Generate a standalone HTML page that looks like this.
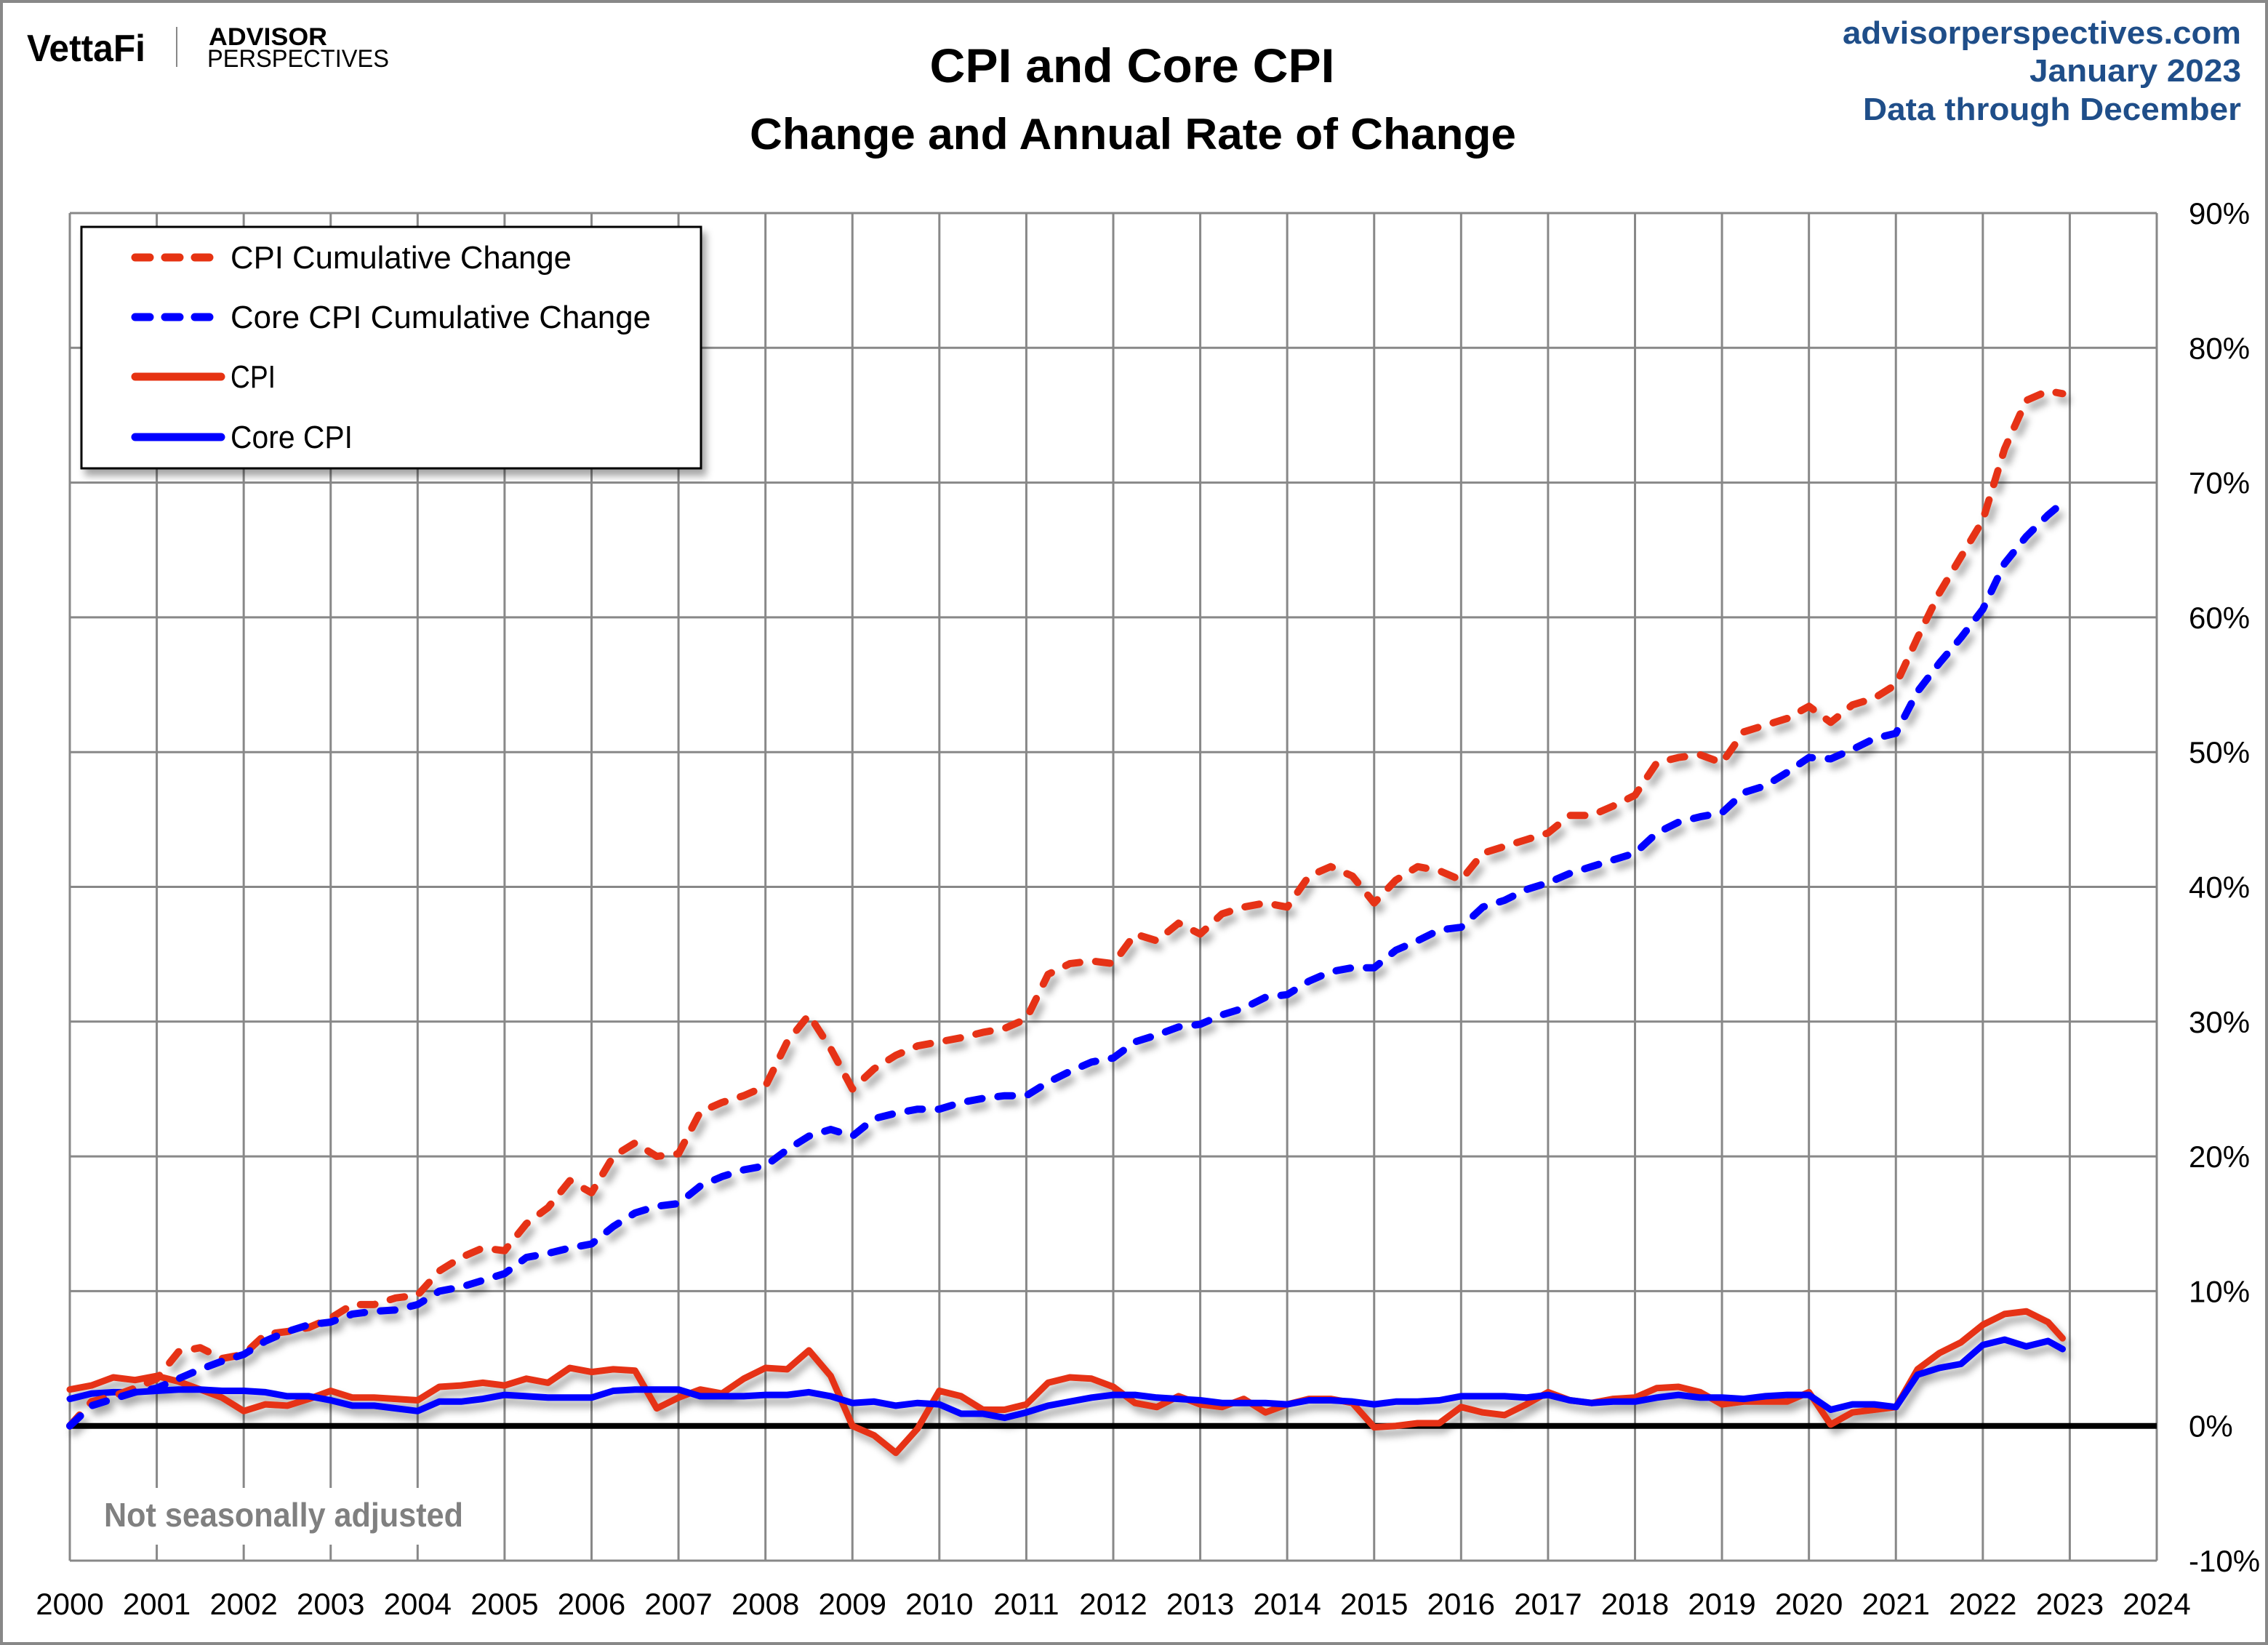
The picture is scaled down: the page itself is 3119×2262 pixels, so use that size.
<!DOCTYPE html>
<html><head><meta charset="utf-8"><style>
html,body{margin:0;padding:0;background:#fff}
svg{display:block}
text{font-family:"Liberation Sans",sans-serif}
</style></head><body>
<svg id="chart" width="3119" height="2262" viewBox="0 0 3119 2262" xmlns="http://www.w3.org/2000/svg">
<defs>
<filter id="sh" x="-5%" y="-5%" width="110%" height="120%"><feDropShadow dx="6" dy="9" stdDeviation="5" flood-color="#000" flood-opacity="0.35"/></filter>
</defs>
<rect x="2" y="2" width="3115" height="2258" fill="#fff" stroke="#888" stroke-width="4"/>
<g>
<text x="37" y="84" font-size="52" font-weight="bold" textLength="163" lengthAdjust="spacingAndGlyphs">VettaFi</text>
<line x1="243" y1="37" x2="243" y2="92" stroke="#888" stroke-width="2"/>
<text x="287" y="62" font-size="34" font-weight="bold" textLength="163" lengthAdjust="spacingAndGlyphs">ADVISOR</text>
<text x="285" y="92" font-size="34" textLength="250" lengthAdjust="spacingAndGlyphs">PERSPECTIVES</text>
</g>
<text x="1557" y="113" font-size="66" font-weight="bold" text-anchor="middle" textLength="557" lengthAdjust="spacingAndGlyphs">CPI and Core CPI</text>
<text x="1558" y="205" font-size="60" font-weight="bold" text-anchor="middle" textLength="1054" lengthAdjust="spacingAndGlyphs">Change and Annual Rate of Change</text>
<g fill="#1f4e89" font-weight="bold" font-size="44" text-anchor="end">
<text x="3082" y="60" textLength="548" lengthAdjust="spacingAndGlyphs">advisorperspectives.com</text>
<text x="3082" y="112" textLength="291" lengthAdjust="spacingAndGlyphs">January 2023</text>
<text x="3082" y="165" textLength="520" lengthAdjust="spacingAndGlyphs">Data through December</text>
</g>
<g id="grid"></g>
<rect x="130" y="2046" width="520" height="78" fill="#fff"/>
<g id="series"></g>
<text x="143" y="2099" font-size="46" font-weight="bold" fill="#808080" textLength="494" lengthAdjust="spacingAndGlyphs">Not seasonally adjusted</text>
<g id="legend">
<rect x="112" y="312" width="852" height="332" fill="#fff" stroke="#000" stroke-width="3" filter="url(#sh)"/>
<line x1="186" y1="354" x2="300" y2="354" stroke="#e63312" stroke-width="11" stroke-dasharray="20 21" stroke-linecap="round"/>
<text x="317" y="369" font-size="44" textLength="469" lengthAdjust="spacingAndGlyphs">CPI Cumulative Change</text>
<line x1="186" y1="436" x2="300" y2="436" stroke="#0000ff" stroke-width="11" stroke-dasharray="20 21" stroke-linecap="round"/>
<text x="317" y="451" font-size="44" textLength="578" lengthAdjust="spacingAndGlyphs">Core CPI Cumulative Change</text>
<line x1="186" y1="518" x2="304" y2="518" stroke="#e63312" stroke-width="11" stroke-linecap="round"/>
<text x="317" y="533" font-size="44" textLength="62" lengthAdjust="spacingAndGlyphs">CPI</text>
<line x1="186" y1="601" x2="304" y2="601" stroke="#0000ff" stroke-width="11" stroke-linecap="round"/>
<text x="317" y="616" font-size="44" textLength="168" lengthAdjust="spacingAndGlyphs">Core CPI</text>
</g>
</svg>
<script>
const years = [2000,2001,2002,2003,2004,2005,2006,2007,2008,2009,2010,2011,2012,2013,2014,2015,2016,2017,2018,2019,2020,2021,2022,2023,2024];
const yTicks = [90,80,70,60,50,40,30,20,10,0,-10];
// quarterly observations (Jan, Apr, Jul, Oct) 2000-2022, plus Dec 2022
const cpiCumulative = [0,1.8,2.2,2.8, 3.5,5.5,5.8,5.0, 5.3,6.8,7.0,7.3, 8.0,9.0,9.0,9.5, 9.7,11.5,12.5,13.2, 13.0,15.0,16.2,18.2, 17.3,20.0,21.0,20.0, 20.2,23.3,24.0,24.5, 25.2,28.5,30.5,28.0, 25.0,26.5,27.5,28.2, 28.5,28.8,29.2,29.5, 30.2,33.5,34.3,34.5, 34.3,36.5,36.0,37.3, 36.5,38.0,38.5,38.8, 38.5,40.8,41.5,40.8, 38.8,40.5,41.5,41.2, 40.5,42.5,43.0,43.5, 44.0,45.3,45.3,46.0, 46.8,49.2,49.6,49.8, 49.2,51.5,52.0,52.5, 53.4,52.2,53.5,54.0, 55.0,58.5,61.8,64.5, 67.2,72.5,76.1,76.8, 76.6];
const coreCumulative = [0,1.5,2.0,2.5, 2.8,3.5,4.2,4.8, 5.3,6.3,7.0,7.5, 7.7,8.3,8.5,8.6, 9.0,10.0,10.3,10.8, 11.3,12.5,12.8,13.2, 13.5,14.8,15.8,16.3, 16.5,17.8,18.5,19.0, 19.3,20.5,21.5,22.0, 21.5,22.8,23.2,23.5, 23.5,24.0,24.3,24.5, 24.5,25.5,26.3,27.0, 27.3,28.5,29.0,29.6, 29.8,30.5,31.0,31.8, 32.0,33.0,33.7,34.0, 34.0,35.3,36.0,36.8, 37.0,38.5,39.0,39.8, 40.3,41.0,41.5,42.0, 42.5,44.0,44.8,45.2, 45.5,47.0,47.5,48.5, 49.6,49.5,50.2,51.0, 51.4,54.5,56.6,58.5, 60.6,64.0,66.0,67.6, 68.5];
const cpiAnnual = [2.7,3.0,3.6,3.4, 3.7,3.3,2.7,2.1, 1.1,1.6,1.5,2.0, 2.6,2.1,2.1,2.0, 1.9,2.9,3.0,3.2, 3.0,3.5,3.2,4.3, 4.0,4.2,4.1,1.3, 2.1,2.7,2.4,3.5, 4.3,4.2,5.6,3.7, 0.0,-0.7,-2.0,-0.2, 2.6,2.2,1.2,1.2, 1.6,3.2,3.6,3.5, 2.9,1.7,1.4,2.2, 1.6,1.4,2.0,1.0, 1.6,2.0,2.0,1.7, -0.1,0.0,0.2,0.2, 1.4,1.0,0.8,1.6, 2.5,1.9,1.7,2.0, 2.1,2.8,2.9,2.5, 1.6,1.8,1.8,1.8, 2.5,0.1,1.0,1.2, 1.4,4.2,5.4,6.2, 7.5,8.3,8.5,7.7, 6.5];
const coreAnnual = [2.0,2.4,2.5,2.5, 2.6,2.7,2.7,2.6, 2.6,2.5,2.2,2.2, 1.9,1.5,1.5,1.3, 1.1,1.8,1.8,2.0, 2.3,2.2,2.1,2.1, 2.1,2.6,2.7,2.7, 2.7,2.2,2.2,2.2, 2.3,2.3,2.5,2.2, 1.7,1.8,1.5,1.7, 1.6,0.9,0.9,0.6, 1.0,1.5,1.8,2.1, 2.3,2.3,2.1,2.0, 1.9,1.7,1.7,1.7, 1.6,1.9,1.9,1.8, 1.6,1.8,1.8,1.9, 2.2,2.2,2.2,2.1, 2.3,1.9,1.7,1.8, 1.8,2.1,2.3,2.1, 2.1,2.0,2.2,2.3, 2.3,1.2,1.6,1.6, 1.4,3.8,4.3,4.6, 6.0,6.4,5.9,6.3, 5.7];

const NS='http://www.w3.org/2000/svg';
const L=96,R=2966,T=293,B=2146,X0=2000,X1=2024,Y0=-10,Y1=90;
const xs=t=>L+(t-X0)/(X1-X0)*(R-L);
const ys=v=>B-(v-Y0)/(Y1-Y0)*(B-T);
const dateOf=i=>i<92?X0+i*0.25:2022+11/12;
function mk(tag,attrs,parent){const e=document.createElementNS(NS,tag);for(const k in attrs)e.setAttribute(k,attrs[k]);parent.appendChild(e);return e;}
const grid=document.getElementById('grid');


years.forEach(y=>{
  const x=xs(y);
  const ln=mk('line',{x1:x,y1:T,x2:x,y2:B,stroke:'#888','stroke-width':3},grid);
  
  
  const t=mk('text',{x:x,y:2220,'font-size':42,'text-anchor':'middle'},grid);
  t.textContent=y;
  
  
});
yTicks.forEach(v=>{
  const y=ys(v);
  if(v!==0){const ln=mk('line',{x1:L,y1:y,x2:R,y2:y,stroke:'#888','stroke-width':3},grid);
  
  }
  const t=mk('text',{x:3010,y:y+15,'font-size':42},grid);
  t.textContent=v+'%';
  
  
});
const zl=mk('line',{x1:L,y1:ys(0),x2:R,y2:ys(0),stroke:'#000','stroke-width':8},grid);


const sg=document.getElementById('series');
sg.setAttribute('filter','url(#sh)');
function path(vals,color,dash,name){
  const d=vals.map((v,i)=>(i?'L':'M')+xs(dateOf(i)).toFixed(1)+' '+ys(v).toFixed(1)).join(' ');
  const p=mk('path',{d:d,fill:'none',stroke:color,'stroke-width':dash?10:9,'stroke-linejoin':'round','stroke-linecap':'round'},sg);
  if(dash)p.setAttribute('stroke-dasharray','20 22');
  
  
}
path(cpiAnnual,'#e63312',false,'cpi-annual-line');
path(coreAnnual,'#0000ff',false,'core-cpi-annual-line');
path(cpiCumulative,'#e63312',true,'cpi-cumulative-line');
path(coreCumulative,'#0000ff',true,'core-cpi-cumulative-line');
</script>
</body></html>
